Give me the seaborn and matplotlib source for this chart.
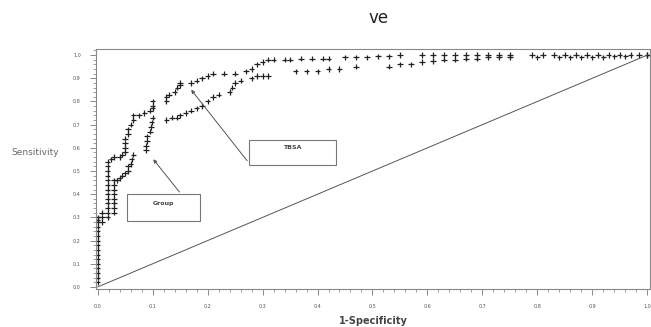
import numpy as np
import matplotlib
matplotlib.use("Agg")
import matplotlib.pyplot as plt
from matplotlib.patches import Rectangle
from matplotlib.ticker import MultipleLocator
import seaborn as sns
import pandas as pd

# ROC points (1-specificity, sensitivity)
tbsa_fpr = [0.0, 0.0, 0.0, 0.0, 0.0, 0.0, 0.0, 0.0, 0.0, 0.0, 0.0, 0.0, 0.0, 0.0, 0.0, 0.0,
            0.018, 0.018, 0.018, 0.018, 0.018, 0.018, 0.018, 0.018, 0.018, 0.018, 0.018, 0.018, 0.018,
            0.025, 0.03, 0.04, 0.045, 0.05, 0.05, 0.05, 0.05, 0.055, 0.055, 0.06, 0.065, 0.065,
            0.075, 0.085, 0.095, 0.1, 0.1, 0.1, 0.125, 0.125, 0.13, 0.14, 0.145, 0.15, 0.15,
            0.17, 0.18, 0.19, 0.2, 0.21, 0.23, 0.25, 0.27, 0.28, 0.29, 0.3, 0.31, 0.32, 0.34,
            0.35, 0.37, 0.39, 0.41, 0.42, 0.45, 0.47, 0.49, 0.51, 0.53, 0.55, 0.59, 0.61, 0.63,
            0.65, 0.67, 0.69, 0.71, 0.73, 0.75, 0.79, 0.81, 0.83, 0.85, 0.87, 0.89, 0.91, 0.93,
            0.95, 0.97, 0.985, 1.0]
tbsa_tpr = [0.02, 0.04, 0.06, 0.08, 0.10, 0.12, 0.14, 0.16, 0.18, 0.20, 0.22, 0.24, 0.26, 0.28, 0.29, 0.30,
            0.30, 0.32, 0.34, 0.36, 0.38, 0.40, 0.42, 0.44, 0.46, 0.48, 0.50, 0.52, 0.54,
            0.55, 0.56, 0.56, 0.57, 0.58, 0.60, 0.62, 0.64, 0.66, 0.68, 0.70, 0.72, 0.74,
            0.74, 0.75, 0.76, 0.77, 0.78, 0.80, 0.80, 0.82, 0.83, 0.84, 0.86, 0.87, 0.88,
            0.88, 0.89, 0.90, 0.91, 0.92, 0.92, 0.92, 0.93, 0.94, 0.96, 0.97, 0.98, 0.98, 0.98,
            0.98, 0.985, 0.985, 0.985, 0.985, 0.99, 0.99, 0.99, 0.995, 0.995, 1.0, 1.0, 1.0, 1.0,
            1.0, 1.0, 1.0, 1.0, 1.0, 1.0, 1.0, 1.0, 1.0, 1.0, 1.0, 1.0, 1.0, 1.0,
            1.0, 1.0, 1.0, 1.0]

group_fpr = [0.008, 0.008, 0.008, 0.03, 0.03, 0.03, 0.03, 0.03, 0.03, 0.03, 0.03,
             0.035, 0.04, 0.045, 0.05, 0.055, 0.055, 0.06, 0.062, 0.065,
             0.088, 0.088, 0.09, 0.09, 0.095, 0.097, 0.098, 0.1, 0.125, 0.135, 0.145,
             0.15, 0.16, 0.17, 0.18, 0.19, 0.2, 0.21, 0.22, 0.24, 0.245, 0.25, 0.26,
             0.28, 0.29, 0.3, 0.31, 0.36, 0.38, 0.4, 0.42, 0.44, 0.47, 0.53, 0.55,
             0.57, 0.59, 0.61, 0.63, 0.65, 0.67, 0.69, 0.71, 0.73, 0.75, 0.80, 0.84,
             0.86, 0.88, 0.90, 0.92, 0.94, 0.96, 1.0]
group_tpr = [0.28, 0.30, 0.32, 0.32, 0.34, 0.36, 0.38, 0.40, 0.42, 0.44, 0.46,
             0.46, 0.47, 0.48, 0.49, 0.50, 0.52, 0.53, 0.55, 0.57,
             0.59, 0.61, 0.63, 0.65, 0.67, 0.69, 0.71, 0.73, 0.72, 0.73, 0.73,
             0.74, 0.75, 0.76, 0.77, 0.78, 0.80, 0.82, 0.83, 0.84, 0.86, 0.88, 0.89,
             0.90, 0.91, 0.91, 0.91, 0.93, 0.93, 0.93, 0.94, 0.94, 0.95, 0.95, 0.96,
             0.96, 0.97, 0.975, 0.98, 0.98, 0.985, 0.985, 0.99, 0.99, 0.99, 0.99, 0.99,
             0.99, 0.99, 0.99, 0.99, 0.995, 0.995, 1.0]

ref_line = [0.0, 1.0]

df = pd.concat([
    pd.DataFrame({'fpr': tbsa_fpr, 'tpr': tbsa_tpr, 'curve': 'TBSA'}),
    pd.DataFrame({'fpr': group_fpr, 'tpr': group_tpr, 'curve': 'Group'}),
])

sns.set_style("white")
plt.rcParams['font.family'] = ['DejaVu Sans']

fig = plt.figure(figsize=(6.51, 3.27), dpi=100)
ax = fig.add_axes([0.1475, 0.116, 0.851, 0.734])

sns.lineplot(x=ref_line, y=ref_line, color='#555555', linewidth=0.7, ax=ax)
sns.scatterplot(data=df, x='fpr', y='tpr', hue='curve',
                palette={'TBSA': '#222222', 'Group': '#222222'},
                marker='+', s=15, linewidth=0.9, legend=False, ax=ax)

ax.set_xlim(-0.003, 1.005)
ax.set_ylim(-0.009, 1.026)

ax.xaxis.set_major_locator(MultipleLocator(0.1))
ax.xaxis.set_minor_locator(MultipleLocator(0.02))
ax.yaxis.set_major_locator(MultipleLocator(0.1))
ax.yaxis.set_minor_locator(MultipleLocator(0.02))
ax.xaxis.set_major_formatter(matplotlib.ticker.FormatStrFormatter('%.1f'))
ax.yaxis.set_major_formatter(matplotlib.ticker.FormatStrFormatter('%.1f'))
ax.tick_params(which='major', direction='out', length=4, width=0.6, color='#777777',
               labelsize=3.5, labelcolor='#555555', pad=7, bottom=True, left=True)
ax.tick_params(which='minor', direction='out', length=2, width=0.5, color='#777777',
               bottom=True, left=True)
for sp in ax.spines.values():
    sp.set_color('#888888')
    sp.set_linewidth(0.8)

ax.set_xlabel('1-Specificity', fontsize=7, fontweight='bold', color='#444444', labelpad=5)
ax.set_ylabel('Sensitivity', fontsize=6.5, color='#666666', rotation=0, labelpad=30, va='center')
ax.yaxis.set_label_coords(-0.11, 0.57)
fig.text(0.581, 0.945, 've', fontsize=12, ha='center', va='center', color='#222222')

# callout boxes
ax.add_patch(Rectangle((0.275, 0.526), 0.158, 0.108, fill=False, edgecolor='#777777', linewidth=0.8))
ax.text(0.354, 0.60, 'TBSA', fontsize=4.5, fontweight='bold', ha='center', va='center', color='#444444')
ax.annotate('', xy=(0.167, 0.86), xytext=(0.275, 0.535),
            arrowprops=dict(arrowstyle='-|>', color='#555555', lw=0.7, mutation_scale=5))

ax.add_patch(Rectangle((0.054, 0.285), 0.133, 0.115, fill=False, edgecolor='#777777', linewidth=0.8))
ax.text(0.12, 0.36, 'Group', fontsize=4.5, fontweight='bold', ha='center', va='center', color='#444444')
ax.annotate('', xy=(0.098, 0.56), xytext=(0.152, 0.40),
            arrowprops=dict(arrowstyle='-|>', color='#555555', lw=0.7, mutation_scale=5))

fig.savefig('out.png', dpi=100)
